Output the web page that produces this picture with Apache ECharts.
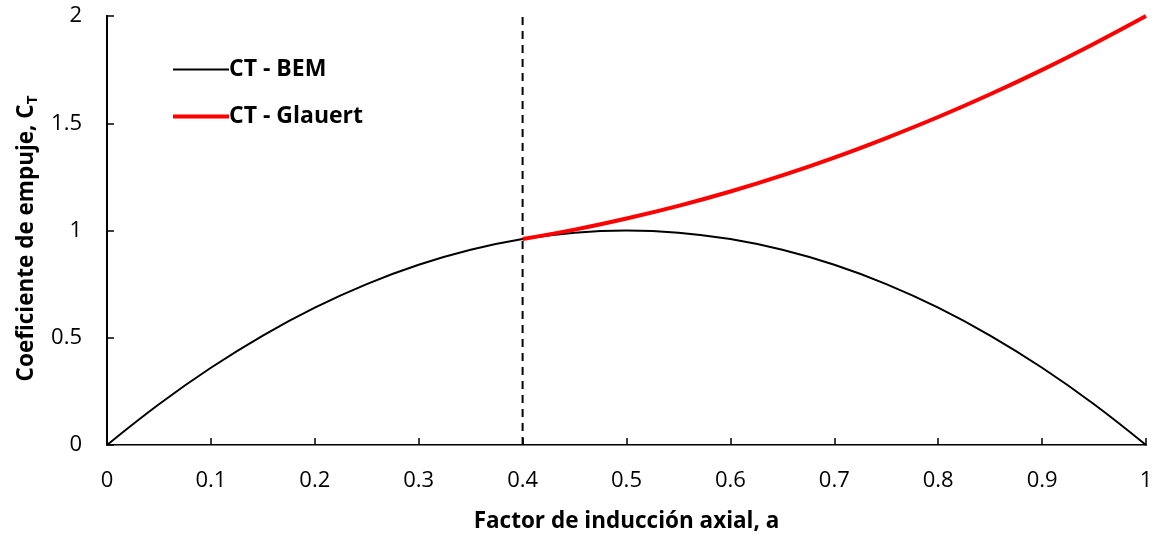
<!DOCTYPE html>
<html><head><meta charset="utf-8">
<script src="https://cdn.jsdelivr.net/npm/echarts@6/dist/echarts.min.js"></script>
<style>html,body{margin:0;padding:0;background:#fff}#c{width:1153px;height:539px}</style>
</head><body><div id="c"></div>
<script>
var aBEM = [0,0.05,0.1,0.15,0.2,0.25,0.3,0.35,0.4,0.45,0.5,0.55,0.6,0.65,0.7,0.75,0.8,0.85,0.9,0.95,1.0];
var ctBEM = [0,0.19,0.36,0.51,0.64,0.75,0.84,0.91,0.96,0.99,1.0,0.99,0.96,0.91,0.84,0.75,0.64,0.51,0.36,0.19,0];
var aGl = [0.4,0.45,0.5,0.55,0.6,0.65,0.7,0.75,0.8,0.85,0.9,0.95,1.0];
var ctGl = [0.96,1.004,1.056,1.115,1.182,1.257,1.34,1.431,1.529,1.635,1.749,1.871,2.0];
var aLimit = 0.4;

function zip(x,y){return x.map(function(v,i){return [v,y[i]];});}
var font = '"Open Sans", "Noto Sans", sans-serif';
var chart = echarts.init(document.getElementById('c'));
var legendText = {fontFamily:font,fontWeight:'bold',fontSize:23,color:'#000',padding:[0,0,0,-5]};
chart.setOption({
  animation:false,
  grid:{left:107,right:7,top:16,bottom:94,containLabel:false,outerBoundsMode:'none'},
  legend:[{
    left:168, top:53, itemWidth:56, itemHeight:2, icon:'rect',
    textStyle:legendText, data:['CT - BEM']
  },{
    left:168, top:100, itemWidth:56, itemHeight:4, icon:'rect',
    textStyle:legendText, data:['CT - Glauert']
  }],
  xAxis:[{
    type:'value', min:0, max:1, interval:0.1,
    name:'Factor de inducción axial, a', nameLocation:'middle', nameGap:65,
    nameTextStyle:{fontFamily:font,fontWeight:'bold',fontSize:22.5,color:'#000'},
    axisLine:{lineStyle:{color:'#000',width:2}},
    axisTick:{inside:true,length:7,lineStyle:{color:'#000',width:1.5}},
    axisLabel:{fontFamily:font,fontSize:22,color:'#000',margin:25,
      formatter:function(v){return String(Math.round(v*10)/10);}},
    splitLine:{show:false}
  },{
    type:'value', min:0, max:1, position:'top',
    axisLine:{show:true,lineStyle:{color:'#777',width:1.2}},
    axisTick:{show:false}, axisLabel:{show:false}, splitLine:{show:false}
  }],
  yAxis:[{
    type:'value', min:0, max:2, interval:0.5,
    name:'Coeficiente de empuje, C{sub|T}', nameLocation:'middle', nameGap:67, nameRotate:90,
    nameTextStyle:{fontFamily:font,fontWeight:'bold',fontSize:22.5,color:'#000',padding:[0,16,0,0],
      rich:{sub:{fontFamily:font,fontWeight:'bold',fontSize:15,color:'#000',verticalAlign:'bottom',padding:[11,0,0,0]}}},
    axisLine:{show:true,lineStyle:{color:'#000',width:2}},
    axisTick:{show:true,inside:true,length:7,lineStyle:{color:'#000',width:1.5}},
    axisLabel:{fontFamily:font,fontSize:22,color:'#000',margin:25},
    splitLine:{show:false}
  },{
    type:'value', min:0, max:2, position:'right',
    axisLine:{show:true,lineStyle:{color:'#000',width:2}},
    axisTick:{show:false}, axisLabel:{show:false}, splitLine:{show:false}
  }],
  series:[{
    name:'CT - BEM', type:'line', data:zip(aBEM,ctBEM), smooth:0.4, symbol:'none',
    lineStyle:{color:'#000',width:2}, itemStyle:{color:'#000'}, z:3
  },{
    name:'CT - Glauert', type:'line', data:zip(aGl,ctGl), smooth:0.4, symbol:'none',
    lineStyle:{color:'#ff0000',width:4}, itemStyle:{color:'#ff0000'}, z:4
  },{
    name:'limit', type:'line', data:[[aLimit,0],[aLimit,2]], symbol:'none',
    lineStyle:{color:'#000',width:2,type:[8,6]}, z:2
  }]
});
</script></body></html>
